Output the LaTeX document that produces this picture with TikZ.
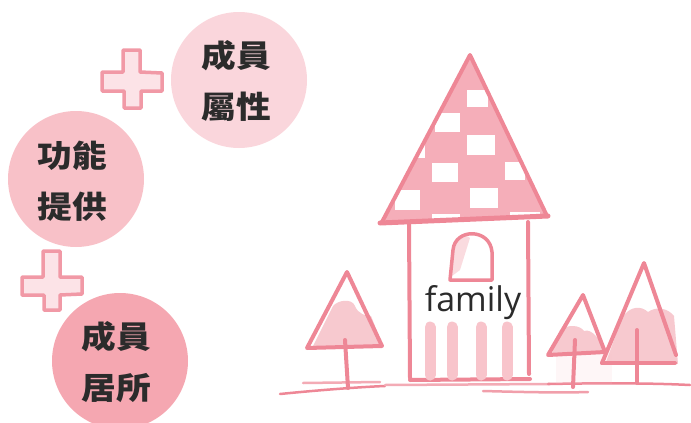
\documentclass[tikz,border=0pt]{standalone}
\usepackage{fontspec}
\newfontfamily\cjk[FakeStretch=1.12]{Noto Sans CJK TC}
\newfontfamily\latinfont{Open Sans}
\begin{document}
\begin{tikzpicture}[x=1pt,y=-1pt,line join=round,line cap=round]
\definecolor{circA}{HTML}{FAD6DC}
\definecolor{circB}{HTML}{F8C1C8}
\definecolor{circC}{HTML}{F5A7B1}
\definecolor{ink}{HTML}{2B2B2B}
\definecolor{pen}{HTML}{EE8796}
\definecolor{roof}{HTML}{F5AEB9}
\definecolor{wash}{HTML}{F6C3CA}
\definecolor{stripe}{HTML}{F8C4CB}
\definecolor{plusin}{HTML}{FCE3E7}
\tikzset{
  bubble/.style={circle,minimum size=136pt,inner sep=0pt},
  label/.style={text=ink,align=center,font=\cjk\bfseries\fontsize{31}{51}\selectfont},
  plusmark/.style={fill=plusin,draw=pen!85,line width=3.5pt},
  penline/.style={draw=pen,line width=4pt},
  thinpen/.style={draw=pen,line width=2.5pt},
  washfill/.style={fill=wash,opacity=0.9},
}
\useasboundingbox (0,0) rectangle (691,423);

% bubbles
\node[bubble,fill=circA] (attr) at (239,80) {};
\node[bubble,fill=circB] (func) at (76,179) {};
\node[bubble,fill=circC] (home) at (120,361) {};
\node[label] (attrtxt) at (236,81) {成員\\屬性};
\node[label] (functxt) at (72,181) {功能\\提供};
\node[label] (hometxt) at (116,362) {成員\\居所};

% plus signs
\path[plusmark] (123,50) -- (140,50) -- (140,72) -- (162,73) -- (162,91) -- (141,91) -- (141,108) -- (124,108) -- (124,91) -- (102,91) -- (102,72) -- (123,72) -- cycle;
\path[plusmark] (43,251) -- (60,251) -- (60,277) -- (82,277) -- (82,294) -- (60,295) -- (60,310) -- (44,310) -- (44,295) -- (22,295) -- (22,277) -- (43,277) -- cycle;

% ground strokes
\draw[thinpen] (280,394) .. controls (320,390) and (360,387) .. (385,386);
\draw[thinpen,draw=pen!70] (303,383) -- (380,382);
\draw[thinpen,draw=pen!70] (385,385) -- (550,384);
\draw[thinpen,draw=pen!80] (483,391) .. controls (520,392) and (560,393) .. (588,392);
\draw[thinpen] (548,384) .. controls (600,383) and (650,383) .. (690,385);

% left tree
\fill[washfill] (312,348) -- (333,306) .. controls (338,300) and (352,298) .. (355,306)
  .. controls (358,314) and (366,316) .. (371,316) -- (383,346) -- cycle;
\draw[penline] (307,348) -- (347,272) -- (382,346) -- cycle;
\draw[penline] (345,340) -- (348,388);

% middle tree
\fill[washfill] (552,353) -- (560,330) .. controls (568,324) and (580,325) .. (584,331)
  .. controls (592,328) and (600,340) .. (606,352) -- cycle;
\fill[wash,opacity=0.15] (556,354) rectangle (612,384);
\draw[penline] (548,355) -- (583,295) -- (605,352) -- cycle;
\draw[penline] (575,340) -- (573,387);

% right tree
\fill[washfill] (606,362) -- (622,318) .. controls (630,305) and (642,306) .. (648,312)
  .. controls (656,306) and (668,308) .. (674,316) -- (678,364) -- cycle;
\draw[penline] (602,363) -- (644,263) -- (676,355);
\draw[penline] (602,363) -- (675,363);
\draw[penline] (637,330) -- (637,383);

% tower body
\draw[penline] (409,224) -- (410,378);
\draw[penline] (528,222) -- (529,374);
\draw[penline] (410,380) -- (530,379);

% door stripes
\foreach \sx in {430,452,481,507}
  \draw[draw=stripe,line width=11pt] (\sx,327) -- (\sx,375);

% arched window
\fill[wash,opacity=0.6] (452,276) -- (453,250) .. controls (454,234) and (466,234) .. (470,238) -- (460,270) -- cycle;
\draw[penline,line width=3.5pt] (450,280) -- (453,250) .. controls (455,228) and (490,228) .. (492,252) -- (492,280) -- cycle;

% checked roof
\begin{scope}
  \clip (382,222) -- (470,55) -- (547,216) -- cycle;
  \fill[roof] (382,222) -- (470,55) -- (547,216) -- cycle;
  \foreach \ax/\ay/\bx/\by in {
      467/90/488/107, 435/113/460/132, 467/135/495/155, 405/140/425/158,
      432/163/458/182, 505/162/525/180, 395/190/420/210, 470/188/498/208,
      432/214/460/222, 510/212/540/222}
    \fill[white] (\ax,\ay) rectangle (\bx,\by);
\end{scope}
\draw[penline] (382,222) -- (470,55) -- (547,216);
\draw[penline,line width=5pt] (380,223) -- (548,216);

\node[font=\latinfont\fontsize{34}{40}\selectfont,text=ink] (word) at (473,303) {family};
\end{tikzpicture}
\end{document}
